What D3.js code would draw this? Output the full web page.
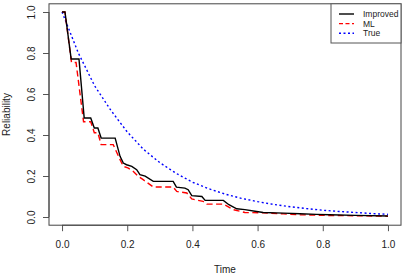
<!DOCTYPE html>
<html>
<head>
<meta charset="utf-8">
<script src="https://cdn.jsdelivr.net/npm/d3@7"></script>
<style>
  body { margin: 0; background: #fff; }
  text { font-family: "Liberation Sans", Arial, sans-serif; fill: #222; }
</style>
</head>
<body>
<div class="canvas"></div>
<script>
// curve readings: [time, reliability]
const improved = [
    [0, 1.0], [0.009, 1.0], [0.028, 0.771], [0.052, 0.771], [0.068, 0.483], [0.088, 0.483],
    [0.099, 0.434], [0.110, 0.434], [0.120, 0.385], [0.163, 0.385], [0.178, 0.296],
    [0.188, 0.263], [0.198, 0.255], [0.214, 0.247], [0.229, 0.231], [0.239, 0.207],
    [0.255, 0.199], [0.280, 0.174], [0.341, 0.174], [0.351, 0.146], [0.377, 0.141],
    [0.387, 0.133], [0.398, 0.104], [0.429, 0.100], [0.439, 0.081], [0.495, 0.081],
    [0.512, 0.060], [0.536, 0.040], [0.561, 0.036], [0.597, 0.027], [0.617, 0.022],
    [0.68, 0.019], [0.73, 0.016], [0.78, 0.013], [0.82, 0.011], [0.9, 0.008], [1.0, 0.005]
];
const ml = [
    [0, 1.0], [0.009, 1.0], [0.029, 0.754], [0.043, 0.754], [0.066, 0.465], [0.088, 0.465],
    [0.099, 0.411], [0.110, 0.411], [0.120, 0.353], [0.157, 0.353], [0.178, 0.280],
    [0.188, 0.247], [0.202, 0.240], [0.219, 0.222], [0.234, 0.198], [0.249, 0.182],
    [0.270, 0.158], [0.280, 0.146], [0.341, 0.146], [0.352, 0.125], [0.383, 0.117],
    [0.398, 0.088], [0.433, 0.076], [0.444, 0.063], [0.495, 0.063], [0.525, 0.036],
    [0.561, 0.022], [0.617, 0.020], [0.68, 0.015], [0.73, 0.011], [0.8, 0.008],
    [0.9, 0.006], [1.0, 0.004]
];
const trueCurve = [
    [0, 1.0], [0.05, 0.80], [0.1, 0.64], [0.15, 0.52], [0.2, 0.415], [0.25, 0.33],
    [0.3, 0.265], [0.35, 0.213], [0.4, 0.17], [0.45, 0.138], [0.5, 0.112], [0.55, 0.091],
    [0.6, 0.075], [0.65, 0.061], [0.7, 0.05], [0.75, 0.041], [0.8, 0.033], [0.85, 0.027],
    [0.9, 0.022], [0.95, 0.017], [1.0, 0.013]
];
const xTicks = [0, 0.2, 0.4, 0.6, 0.8, 1.0];
const yTicks = [0, 0.2, 0.4, 0.6, 0.8, 1.0];
const legendNames = ['Improved', 'ML', 'True'];

const width = 406, height = 275;
const margin = { top: 3.8, right: 5, bottom: 49.8, left: 49 };
const w = width - margin.left - margin.right;
const h = height - margin.top - margin.bottom;

const svg = d3.select('.canvas').append('svg')
    .attr('width', width)
    .attr('height', height);

const graph = svg.append('g')
    .attr('transform', `translate(${margin.left}, ${margin.top})`);

// R style: 4% padding on each side
const x = d3.scaleLinear().domain([-0.04, 1.04]).range([0, w]);
const y = d3.scaleLinear().domain([-0.04, 1.04]).range([h, 0]);

// axes
const xAxis = d3.axisBottom(x).tickValues(xTicks).tickFormat(d3.format('.1f')).tickSize(6).tickPadding(4);
const yAxis = d3.axisLeft(y).tickValues(yTicks).tickFormat(d3.format('.1f')).tickSize(6).tickPadding(4);

const xg = graph.append('g').attr('transform', `translate(0, ${h})`).call(xAxis);
const yg = graph.append('g').call(yAxis);

[xg, yg].forEach(g => {
    g.select('.domain').remove();
    g.selectAll('line').attr('stroke', '#555');
    g.selectAll('text').style('font-size', '10px').attr('fill', '#222');
});
xg.selectAll('text').attr('dy', null).attr('y', 23);
// rotated y labels
yg.selectAll('text')
    .attr('x', null).attr('dy', null)
    .attr('text-anchor', 'middle')
    .attr('transform', 'translate(-14, 0) rotate(-90)');

// axis lines between first and last ticks
xg.append('line').attr('x1', x(0)).attr('x2', x(1)).attr('stroke', '#555');
yg.append('line').attr('y1', y(0)).attr('y2', y(1)).attr('stroke', '#555');

// box
graph.append('rect')
    .attr('width', w).attr('height', h)
    .attr('fill', 'none').attr('stroke', '#444').attr('stroke-width', 1);

// axis titles
svg.append('text')
    .attr('x', margin.left + w / 2).attr('y', 273)
    .attr('text-anchor', 'middle').style('font-size', '10px')
    .text('Time');
svg.append('text')
    .attr('transform', `translate(9.5, ${margin.top + h / 2}) rotate(-90)`)
    .attr('text-anchor', 'middle').style('font-size', '10px')
    .text('Reliability');

// curves
const line = d3.line().x(d => x(d[0])).y(d => y(d[1]));
const series = [
    { data: trueCurve, color: '#0000ff', dash: '2,2.5' },
    { data: ml, color: '#ff0000', dash: '6,3.5' },
    { data: improved, color: '#000000', dash: null }
];
series.forEach(s => {
    graph.append('path')
        .datum(s.data)
        .attr('d', line)
        .attr('fill', 'none')
        .attr('stroke', s.color)
        .attr('stroke-width', 1.4)
        .attr('stroke-dasharray', s.dash);
});

// legend
const legend = svg.append('g').attr('transform', 'translate(331, 3.8)');
legend.append('rect')
    .attr('width', 70).attr('height', 39.2)
    .attr('fill', '#fff').attr('stroke', '#555').attr('stroke-width', 1);
const legendStyle = [
    { color: '#000000', dash: null },
    { color: '#ff0000', dash: '4,2.5' },
    { color: '#0000ff', dash: '2,2.5' }
];
legendNames.forEach((name, i) => {
    const ly = 10.2 + i * 9.6;
    legend.append('line')
        .attr('x1', 8).attr('x2', 23).attr('y1', ly).attr('y2', ly)
        .attr('stroke', legendStyle[i].color)
        .attr('stroke-width', 1.4)
        .attr('stroke-dasharray', legendStyle[i].dash);
    legend.append('text')
        .attr('x', 32).attr('y', ly + 3)
        .style('font-size', '8.5px')
        .text(name);
});
</script>
</body>
</html>
